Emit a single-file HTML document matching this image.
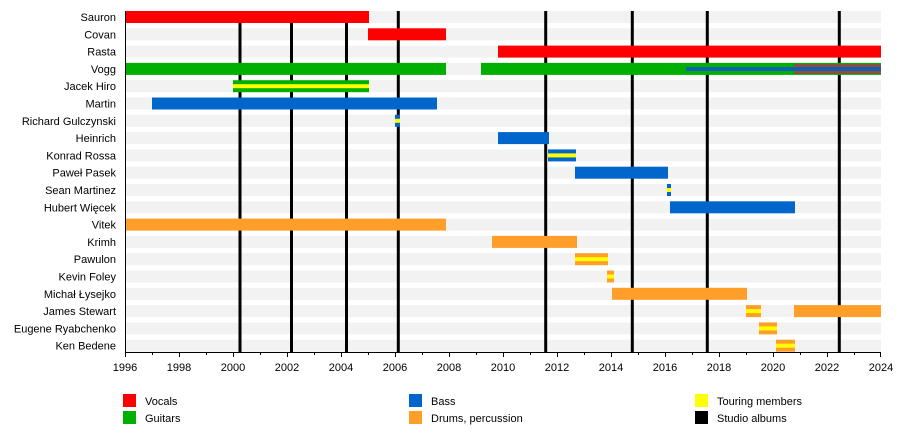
<!DOCTYPE html>
<html><head><meta charset="utf-8"><style>
body{margin:0;background:#fff;}
svg{display:block;font-family:"Liberation Sans",sans-serif;}
</style></head><body>
<svg width="900" height="442" xmlns="http://www.w3.org/2000/svg">
<g id="bg" fill="#f2f2f2">
<rect x="125" y="11" width="756" height="12"/>
<rect x="125" y="28.3" width="756" height="12"/>
<rect x="125" y="45.6" width="756" height="12"/>
<rect x="125" y="62.9" width="756" height="12"/>
<rect x="125" y="80.2" width="756" height="12"/>
<rect x="125" y="97.5" width="756" height="12"/>
<rect x="125" y="114.8" width="756" height="12"/>
<rect x="125" y="132.1" width="756" height="12"/>
<rect x="125" y="149.4" width="756" height="12"/>
<rect x="125" y="166.7" width="756" height="12"/>
<rect x="125" y="184" width="756" height="12"/>
<rect x="125" y="201.3" width="756" height="12"/>
<rect x="125" y="218.6" width="756" height="12"/>
<rect x="125" y="235.9" width="756" height="12"/>
<rect x="125" y="253.2" width="756" height="12"/>
<rect x="125" y="270.5" width="756" height="12"/>
<rect x="125" y="287.8" width="756" height="12"/>
<rect x="125" y="305.1" width="756" height="12"/>
<rect x="125" y="322.4" width="756" height="12"/>
<rect x="125" y="339.7" width="756" height="12"/>
</g>
<g stroke="#000" stroke-width="3">
<line x1="240" y1="11" x2="240" y2="352"/>
<line x1="291.5" y1="11" x2="291.5" y2="352"/>
<line x1="346.5" y1="11" x2="346.5" y2="352"/>
<line x1="398.3" y1="11" x2="398.3" y2="352"/>
<line x1="545.7" y1="11" x2="545.7" y2="352"/>
<line x1="632.3" y1="11" x2="632.3" y2="352"/>
<line x1="707.3" y1="11" x2="707.3" y2="352"/>
<line x1="839.3" y1="11" x2="839.3" y2="352"/>
</g>
<!-- bars -->
<rect x="125" y="11" width="244" height="12" fill="#ff0000"/>
<rect x="368" y="28.3" width="78" height="12" fill="#ff0000"/>
<rect x="498" y="45.6" width="383" height="12" fill="#ff0000"/>
<rect x="125" y="62.9" width="321" height="12" fill="#00b000"/>
<rect x="481" y="62.9" width="400" height="12" fill="#00b000"/>
<rect x="794" y="64" width="87" height="10" fill="#8a5038"/>
<rect x="686" y="67" width="195" height="4" fill="#1060b8"/>
<rect x="233" y="80.2" width="136" height="12" fill="#00b000"/>
<rect x="233" y="84.2" width="136" height="4" fill="#ffff00"/>
<rect x="152" y="97.5" width="285" height="12" fill="#0066cc"/>
<rect x="395" y="114.8" width="5" height="12" fill="#0066cc"/>
<rect x="395" y="118.8" width="5" height="4" fill="#ffff00"/>
<rect x="498" y="132.1" width="51" height="12" fill="#0066cc"/>
<rect x="548" y="149.4" width="28" height="12" fill="#0066cc"/>
<rect x="548" y="153.4" width="28" height="4" fill="#ffff00"/>
<rect x="575" y="166.7" width="93" height="12" fill="#0066cc"/>
<rect x="667" y="184" width="4" height="12" fill="#0066cc"/>
<rect x="667" y="188" width="4" height="4" fill="#ffff00"/>
<rect x="670" y="201.3" width="125" height="12" fill="#0066cc"/>
<rect x="125" y="218.6" width="321" height="12" fill="#ff9f2a"/>
<rect x="492" y="235.9" width="85" height="12" fill="#ff9f2a"/>
<rect x="575" y="253.2" width="33" height="12" fill="#ff9f2a"/>
<rect x="575" y="257.2" width="33" height="4" fill="#ffff00"/>
<rect x="607" y="270.5" width="7" height="12" fill="#ff9f2a"/>
<rect x="607" y="274.5" width="7" height="4" fill="#ffff00"/>
<rect x="612" y="287.8" width="135" height="12" fill="#ff9f2a"/>
<rect x="746" y="305.1" width="15" height="12" fill="#ff9f2a"/>
<rect x="746" y="309.1" width="15" height="4" fill="#ffff00"/>
<rect x="794" y="305.1" width="87" height="12" fill="#ff9f2a"/>
<rect x="759" y="322.4" width="18" height="12" fill="#ff9f2a"/>
<rect x="759" y="326.4" width="18" height="4" fill="#ffff00"/>
<rect x="776" y="339.7" width="19" height="12" fill="#ff9f2a"/>
<rect x="776" y="343.7" width="19" height="4" fill="#ffff00"/>
<!-- axes -->
<g stroke="#000" stroke-width="1">
<line x1="125.5" y1="11" x2="125.5" y2="353"/>
<line x1="125" y1="352.5" x2="881" y2="352.5"/>
</g>
<g stroke="#000" stroke-width="1" id="ticks"></g>
<g font-size="11" fill="#000" text-anchor="end" id="names">
<text x="116" y="21">Sauron</text>
<text x="116" y="38.3">Covan</text>
<text x="116" y="55.6">Rasta</text>
<text x="116" y="72.9">Vogg</text>
<text x="116" y="90.2">Jacek Hiro</text>
<text x="116" y="107.5">Martin</text>
<text x="116" y="124.8">Richard Gulczynski</text>
<text x="116" y="142.1">Heinrich</text>
<text x="116" y="159.4">Konrad Rossa</text>
<text x="116" y="176.7">Paweł Pasek</text>
<text x="116" y="194">Sean Martinez</text>
<text x="116" y="211.3">Hubert Więcek</text>
<text x="116" y="228.6">Vitek</text>
<text x="116" y="245.9">Krimh</text>
<text x="116" y="263.2">Pawulon</text>
<text x="116" y="280.5">Kevin Foley</text>
<text x="116" y="297.8">Michał Łysejko</text>
<text x="116" y="315.1">James Stewart</text>
<text x="116" y="332.4">Eugene Ryabchenko</text>
<text x="116" y="349.7">Ken Bedene</text>
</g>
<g font-size="11" fill="#000" text-anchor="middle">
<text x="125" y="371">1996</text><text x="179" y="371">1998</text><text x="233" y="371">2000</text><text x="287" y="371">2002</text><text x="341" y="371">2004</text><text x="395" y="371">2006</text><text x="449" y="371">2008</text><text x="503" y="371">2010</text><text x="557" y="371">2012</text><text x="611" y="371">2014</text><text x="665" y="371">2016</text><text x="719" y="371">2018</text><text x="773" y="371">2020</text><text x="827" y="371">2022</text><text x="881" y="371">2024</text>
</g>
<g stroke="#000">
<path d="M125.5 352v5M152.5 352v3M179.5 352v5M206.5 352v3M233.5 352v5M260.5 352v3M287.5 352v5M314.5 352v3M341.5 352v5M368.5 352v3M395.5 352v5M422.5 352v3M449.5 352v5M476.5 352v3M503.5 352v5M530.5 352v3M557.5 352v5M584.5 352v3M611.5 352v5M638.5 352v3M665.5 352v5M692.5 352v3M719.5 352v5M746.5 352v3M773.5 352v5M800.5 352v3M827.5 352v5M854.5 352v3M880.5 352v5"/>
</g>
<!-- legend -->
<rect x="123" y="394" width="13" height="13" fill="#ff0000"/>
<rect x="123" y="411" width="13" height="13" fill="#00b000"/>
<rect x="409" y="394" width="13" height="13" fill="#0066cc"/>
<rect x="409" y="411" width="13" height="13" fill="#ff9f2a"/>
<rect x="695" y="394" width="13" height="13" fill="#ffff00"/>
<rect x="695" y="411" width="13" height="13" fill="#000"/>
<g font-size="11" fill="#000">
<text x="145" y="405">Vocals</text>
<text x="145" y="422">Guitars</text>
<text x="431" y="405">Bass</text>
<text x="431" y="422">Drums, percussion</text>
<text x="717" y="405">Touring members</text>
<text x="717" y="422">Studio albums</text>
</g>
</svg>
</body></html>
